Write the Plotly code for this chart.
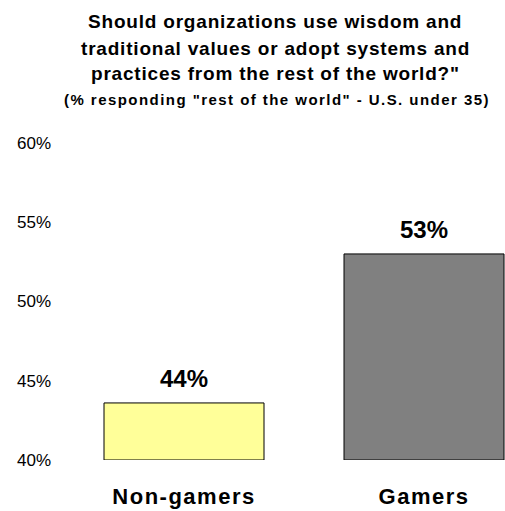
import plotly.graph_objects as go

categories = ["Non-gamers", "Gamers"]
values = [43.6, 53.0]
bar_colors = ["#FFFF99", "#808080"]
y_tick_vals = [40, 45, 50, 55, 60]
y_tick_text = ["40%", "45%", "50%", "55%", "60%"]
title_lines = [
    "Should organizations use wisdom and",
    "traditional values or adopt systems and",
    "practices from the rest of the world?\"",
]
subtitle = "(% responding \"rest of the world\" - U.S. under 35)"

FONT = "Arial, 'Liberation Sans', sans-serif"


def spaced(text, px):
    return f"<span style='letter-spacing:{px}px'>{text}</span>"


fig = go.Figure()
fig.add_trace(go.Bar(
    x=categories,
    y=[v - 40 for v in values],
    base=40,
    marker=dict(color=bar_colors, line=dict(color="#000000", width=1)),
    width=0.6667,
    hoverinfo="skip",
))

annotations = []
for c, v in zip(categories, values):
    annotations.append(dict(
        x=c, y=v, xref="x", yref="y", text=f"<b>{round(v)}%</b>",
        showarrow=False, yanchor="middle", yshift=24,
        font=dict(family=FONT, size=24, color="#000000"),
    ))

margin_l, margin_r, margin_t, margin_b = 64, 0, 143, 51
W, H = 505, 511
plot_w = W - margin_l - margin_r
plot_h = H - margin_t - margin_b


def px_to_paper(px_x, px_y):
    return (px_x - margin_l) / plot_w, (H - margin_b - px_y) / plot_h


title_y = [22, 48, 73]
for line, yy in zip(title_lines, title_y):
    ax, ay = px_to_paper(275, yy)
    annotations.append(dict(
        x=ax, y=ay, xref="paper", yref="paper", text=f"<b>{spaced(line, 0.8)}</b>",
        showarrow=False, xanchor="center", yanchor="middle",
        font=dict(family=FONT, size=19, color="#000000"),
    ))
ax, ay = px_to_paper(277, 99)
annotations.append(dict(
    x=ax, y=ay, xref="paper", yref="paper", text=f"<b>{spaced(subtitle, 1.45)}</b>",
    showarrow=False, xanchor="center", yanchor="middle",
    font=dict(family=FONT, size=15, color="#000000"),
))

fig.update_layout(
    width=W, height=H,
    margin=dict(l=margin_l, r=margin_r, t=margin_t, b=margin_b, pad=0, autoexpand=False),
    paper_bgcolor="white", plot_bgcolor="white",
    showlegend=False,
    annotations=annotations,
    xaxis=dict(
        type="category", range=[-0.5, -0.5 + plot_w / 240],
        showgrid=False, showline=False, zeroline=False, automargin=False,
        ticks="", ticklabelstandoff=21,
        tickfont=dict(family=FONT, size=22, color="#000000"),
        tickvals=categories,
        ticktext=[f"<b>{spaced(c, 1.5)}</b>" for c in categories],
    ),
    yaxis=dict(
        range=[40, 60], tickvals=y_tick_vals, ticktext=y_tick_text,
        showgrid=False, showline=False, zeroline=False, automargin=False,
        ticks="", ticklabelstandoff=12,
        tickfont=dict(family=FONT, size=17, color="#000000"),
    ),
)

fig.write_html(
    "out.html",
    config={"displayModeBar": False},
    post_script="document.body.style.margin='0';document.body.style.overflow='hidden';",
)
